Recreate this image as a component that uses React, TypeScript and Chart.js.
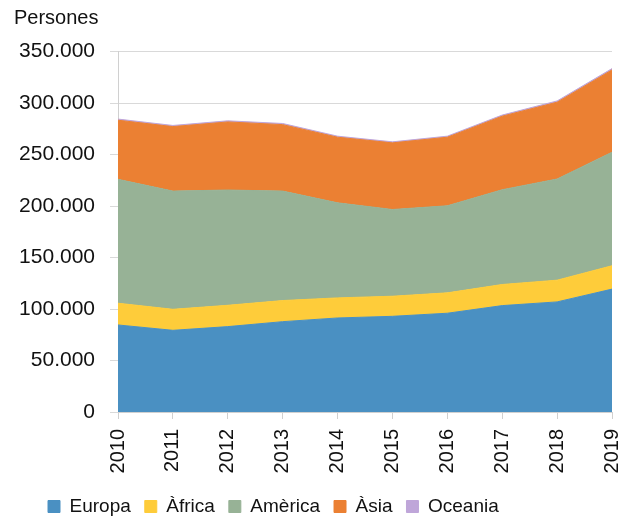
import React, { useEffect, useRef } from "react";
import { Chart, registerables } from "chart.js";

Chart.register(...registerables);

const years = ["2010", "2011", "2012", "2013", "2014", "2015", "2016", "2017", "2018", "2019"];
const europa = [84500, 79300, 82900, 87700, 91300, 92900, 95900, 103300, 106900, 119300];
const africa = [21100, 20400, 20700, 20500, 19500, 19500, 19800, 20500, 21100, 22700];
const america = [120300, 114800, 111900, 106300, 92300, 84200, 84500, 92000, 98200, 110200];
const asia = [57400, 62600, 66100, 64500, 63700, 64700, 66600, 71400, 74600, 79900];
const oceania = [1100, 1100, 1100, 1100, 1000, 1000, 1000, 1100, 1200, 1300];

const seriesNames = ["Europa", "Àfrica", "Amèrica", "Àsia", "Oceania"];
const seriesColors = ["#4a90c2", "#fecc3a", "#97b296", "#eb8033", "#bfa6d9"];

const FONT = "'Liberation Sans', Arial, sans-serif";

const fmt = (v: number) => String(v).replace(/\B(?=(\d{3})+(?!\d))/g, ".");

const legendShift = {
  id: "legendShift",
  afterLayout(chart: any) {
    const lg = chart.legend;
    if (lg) {
      lg.left = 34;
      lg.top += 7;
      lg.bottom += 7;
    }
  },
};

export default function App() {
  const ref = useRef<HTMLCanvasElement | null>(null);
  useEffect(() => {
    if (!ref.current) return;
    const all = [europa, africa, america, asia, oceania];
    const chart = new Chart(ref.current, {
      type: "line",
      data: {
        labels: years,
        datasets: all.map((d, i) => ({
          label: seriesNames[i],
          data: d,
          backgroundColor: seriesColors[i],
          borderColor: seriesColors[i],
          borderWidth: 1,
          pointRadius: 0,
          tension: 0,
          fill: i === 0 ? "origin" : "-1",
        })),
      },
      options: {
        responsive: false,
        animation: false,
        layout: { padding: { left: 14, right: 17, top: 0, bottom: 0 } },
        scales: {
          x: {
            offset: false,
            afterFit: (s: any) => {
              s.paddingLeft = 0;
              s.paddingRight = 0;
              s.height = 64;
            },
            grid: { drawOnChartArea: false, color: "#d0d0d0", tickLength: 7 },
            border: { color: "#d0d0d0" },
            ticks: {
              autoSkip: false,
              minRotation: 90,
              maxRotation: 90,
              padding: 10,
              color: "#111",
              font: { family: FONT, size: 20 },
            },
          },
          y: {
            stacked: true,
            min: 0,
            max: 350000,
            afterFit: (s: any) => {
              s.width = 104;
            },
            grid: { color: "#d9d9d9", tickLength: 8 },
            border: { color: "#d0d0d0" },
            ticks: {
              stepSize: 50000,
              padding: 15,
              color: "#111",
              font: { family: FONT, size: 21 },
              callback: (v: any) => fmt(Number(v)),
            },
          },
        },
        plugins: {
          title: {
            display: true,
            text: "Persones",
            align: "start",
            color: "#111",
            font: { family: FONT, size: 20, weight: "normal" },
            padding: { top: 6, bottom: 21.5 },
          },
          legend: {
            position: "bottom",
            align: "start",
            labels: {
              boxWidth: 12,
              boxHeight: 12,
              padding: 14,
              color: "#111",
              font: { family: FONT, size: 19 },
            },
          },
          tooltip: { enabled: false },
        },
      },
      plugins: [legendShift],
    });
    return () => chart.destroy();
  }, []);
  return (
    <div style={{ position: "absolute", left: 0, top: 0, width: 629, height: 519 }}>
      <canvas ref={ref} width={629} height={519} />
    </div>
  );
}
